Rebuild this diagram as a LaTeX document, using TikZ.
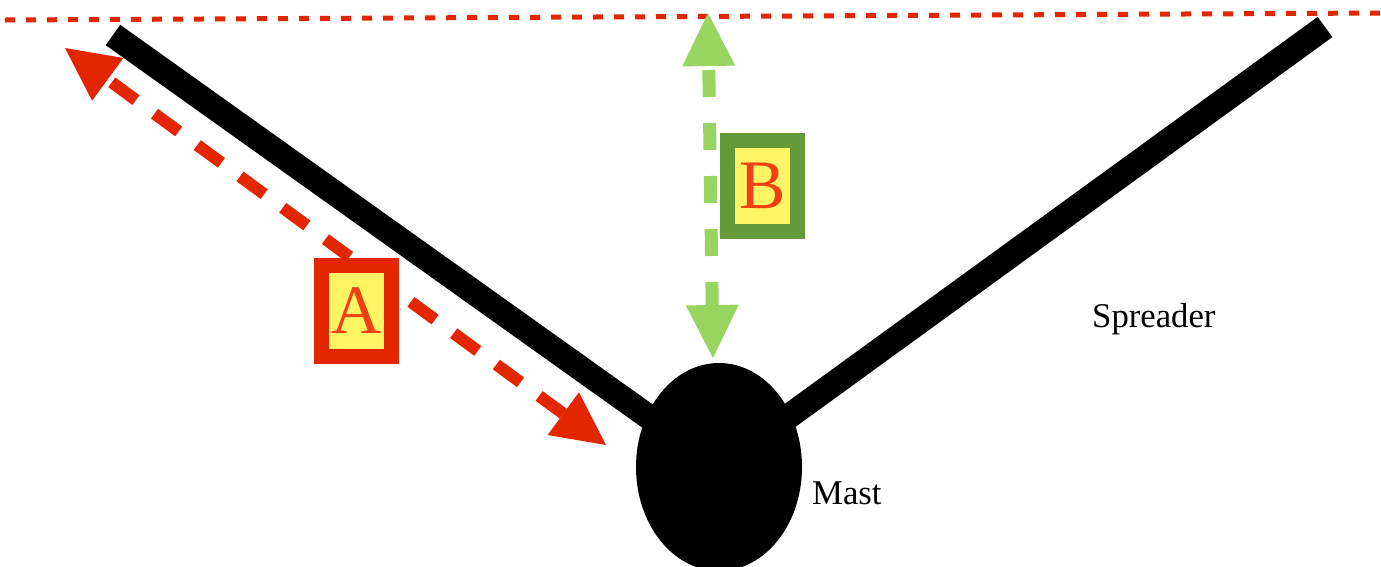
\documentclass[tikz,border=0pt]{standalone}
\usepackage{fontspec}
\setmainfont{Liberation Serif}
\usetikzlibrary{arrows.meta,shapes.geometric}
\definecolor{arrowred}{RGB}{227,38,0}
\definecolor{lightgreen}{RGB}{152,212,96}
\definecolor{darkgreen}{RGB}{100,154,56}
\definecolor{tagyellow}{RGB}{255,245,100}
\definecolor{letterred}{RGB}{240,64,20}

\begin{document}
\begin{tikzpicture}[x=1pt,y=-1pt,>={Triangle[length=53pt,width=53pt,line width=0pt]},
  spar/.style={line width=25pt,line cap=butt},
  tag/.style={draw=#1,line width=15pt,fill=tagyellow,text=letterred,
    minimum width=70pt,minimum height=91pt,inner sep=0pt,
    font=\fontsize{69.5}{70}\selectfont},
  nametext/.style={anchor=base west,inner sep=0pt,font=\fontsize{34.7}{40}\selectfont}]
  \useasboundingbox (0,0) rectangle (1381,566);
  % top line
  \coordinate (lineL) at (5,20);
  \coordinate (lineR) at (1381,13);
  \draw[arrowred,line width=5pt,dash pattern=on 10pt off 11pt] (lineL) -- (lineR);
  % mast and spreaders
  \node[ellipse,fill=black,minimum width=166pt,minimum height=208pt,inner sep=0pt] (mast) at (719,467) {};
  \coordinate (tipL) at (113,35);
  \coordinate (tipR) at (1325,27);
  \draw[spar] (tipL) -- (mast.center);
  \draw[spar] (tipR) -- (mast.center);
  % measure A
  \coordinate (aTop) at (65,48);
  \coordinate (aBot) at (606,445);
  \draw[<->,arrowred,line width=12pt,dash pattern=on 30pt off 23pt] (aBot) -- (aTop);
  \node[tag=arrowred] (tagA) at (356.5,311) {A};
  % measure B
  \coordinate (bTop) at (708,13);
  \coordinate (bBot) at (713,358);
  \draw[<->,lightgreen,line width=13pt,dash pattern=on 27pt off 26pt,dash phase=-4pt] (bTop) -- (bBot);
  \node[tag=darkgreen] (tagB) at (762.5,185.5) {B};
  % names
  \node[nametext] (spreader) at (1092,327) {Spreader};
  \node[nametext] (mastname) at (812,504) {Mast};
\end{tikzpicture}
\end{document}
